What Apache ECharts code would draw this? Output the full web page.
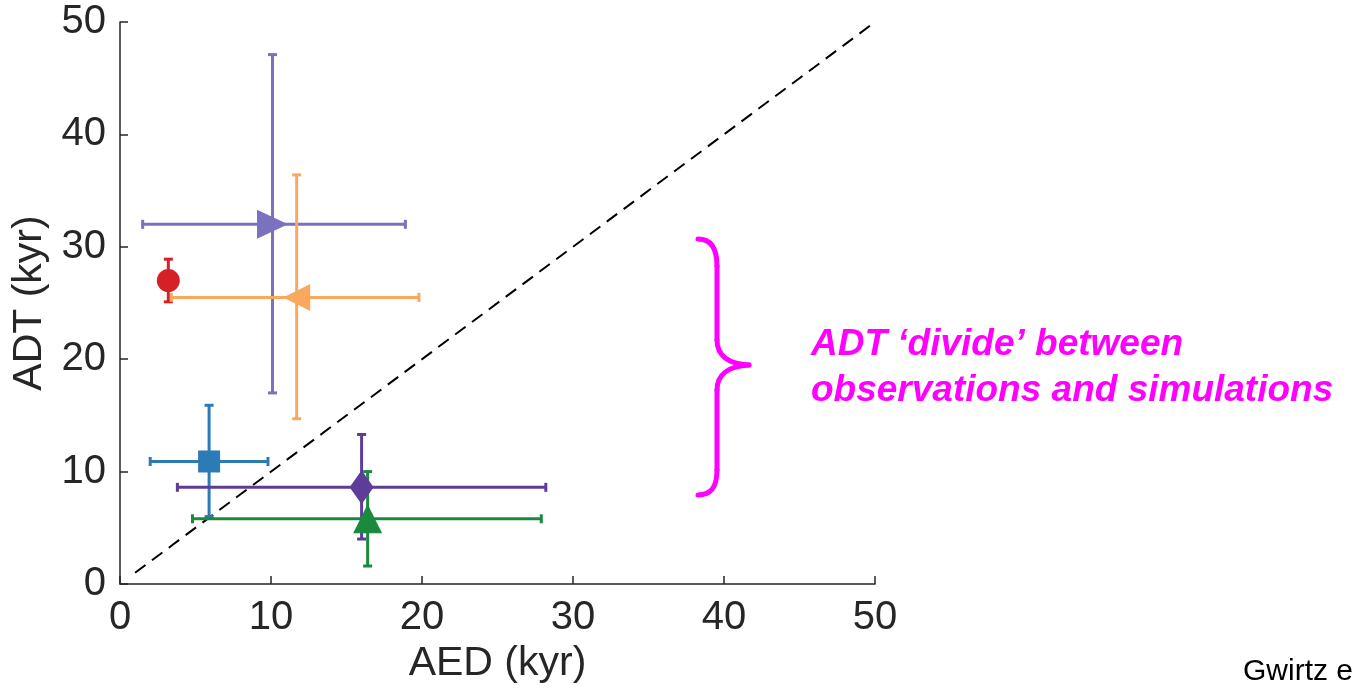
<!DOCTYPE html>
<html lang="en">
<head>
    <meta charset="UTF-8">
    <title>ADT vs AED</title>
    <script src="https://cdn.jsdelivr.net/npm/echarts@6/dist/echarts.min.js"></script>
    <style>
        html, body { margin: 0; padding: 0; background: #fff; }
        #chart { width: 1353px; height: 696px; }
    </style>
</head>
<body>
<div id="chart"></div>
<script type="text/javascript">
    // data (kyr)
    var aed    = [3.2, 10.1, 11.7, 5.9, 16.0, 16.4];
    var adt    = [27.0, 32.0, 25.5, 10.9, 8.6, 5.8];
    var aedLo  = [3.2, 1.5, 3.4, 2.0, 3.8, 4.8];
    var aedHi  = [3.2, 18.9, 19.8, 9.8, 28.2, 27.9];
    var adtLo  = [25.1, 17.0, 14.7, 6.0, 4.0, 1.6];
    var adtHi  = [28.9, 47.1, 36.4, 15.9, 13.3, 10.0];
    var colors = ['#d62027', '#7a72bf', '#f9a85e', '#2c7bb6', '#5e3c99', '#1b8a3c'];
    var symbols = ['circle', 'triangle', 'triangle', 'rect', 'diamond', 'triangle'];
    var rotates = [0, -90, 90, 0, 0, 0];
    var sizes  = [[23, 23], [29, 31], [27, 27], [22, 22], [24, 34], [29, 29]];
    var oneToOne = [[1, 1], [50, 50]];

    var font = '"Liberation Sans", Arial, Helvetica, sans-serif';
    var axisColor = '#262626';

    var errData = [];
    var markData = [];
    for (var i = 0; i < aed.length; i++) {
        errData.push([aed[i], adt[i], aedLo[i], aedHi[i], adtLo[i], adtHi[i]]);
        markData.push({
            value: [aed[i], adt[i]],
            symbol: symbols[i],
            symbolRotate: rotates[i],
            symbolSize: sizes[i],
            itemStyle: { color: colors[i], opacity: 1 }
        });
    }

    function renderErr(params, api) {
        var x = api.value(0), y = api.value(1);
        var c = api.coord([x, y]);
        var l = api.coord([api.value(2), y]);
        var r = api.coord([api.value(3), y]);
        var b = api.coord([x, api.value(4)]);
        var t = api.coord([x, api.value(5)]);
        var cap = 4.5;
        var style = { stroke: colors[params.dataIndex], lineWidth: 3, fill: null };
        var kids = [];
        if (r[0] - l[0] > 1) {
            kids.push({ type: 'line', shape: { x1: l[0], y1: c[1], x2: r[0], y2: c[1] }, style: style });
            kids.push({ type: 'line', shape: { x1: l[0], y1: c[1] - cap, x2: l[0], y2: c[1] + cap }, style: style });
            kids.push({ type: 'line', shape: { x1: r[0], y1: c[1] - cap, x2: r[0], y2: c[1] + cap }, style: style });
        }
        kids.push({ type: 'line', shape: { x1: c[0], y1: t[1], x2: c[0], y2: b[1] }, style: style });
        kids.push({ type: 'line', shape: { x1: c[0] - cap, y1: t[1], x2: c[0] + cap, y2: t[1] }, style: style });
        kids.push({ type: 'line', shape: { x1: c[0] - cap, y1: b[1], x2: c[0] + cap, y2: b[1] }, style: style });
        return { type: 'group', children: kids };
    }

    // curly brace (annotation), pixel layout
    var braceStyle = { stroke: '#ff00ff', lineWidth: 5, fill: null, lineCap: 'round' };
    var brace = {
        type: 'group',
        children: [
            { type: 'bezierCurve', shape: { x1: 698, y1: 239, cpx1: 712, cpy1: 239, cpx2: 717, cpy2: 250, x2: 717, y2: 266 }, style: braceStyle },
            { type: 'line', shape: { x1: 717, y1: 266, x2: 717, y2: 340 }, style: braceStyle },
            { type: 'bezierCurve', shape: { x1: 717, y1: 340, cpx1: 717, cpy1: 356, cpx2: 729, cpy2: 364, x2: 749, y2: 365 }, style: braceStyle },
            { type: 'bezierCurve', shape: { x1: 749, y1: 365, cpx1: 729, cpy1: 366, cpx2: 717, cpy2: 374, x2: 717, y2: 390 }, style: braceStyle },
            { type: 'line', shape: { x1: 717, y1: 390, x2: 717, y2: 470 }, style: braceStyle },
            { type: 'bezierCurve', shape: { x1: 717, y1: 470, cpx1: 717, cpy1: 486, cpx2: 712, cpy2: 495, x2: 698, y2: 495 }, style: braceStyle }
        ]
    };

    var chart = echarts.init(document.getElementById('chart'));
    var option = {
        animation: false,
        backgroundColor: '#ffffff',
        textStyle: { fontFamily: font },
        grid: { left: 120, right: 478, top: 22, bottom: 112 },
        xAxis: {
            type: 'value', min: 0, max: 50, interval: 10,
            name: 'AED (kyr)', nameLocation: 'middle', nameGap: 58,
            nameTextStyle: { fontSize: 41, color: axisColor, fontFamily: font },
            axisLine: { show: true, lineStyle: { color: axisColor, width: 1.5 } },
            axisTick: { show: true, inside: true, length: 8, lineStyle: { color: axisColor, width: 1.5 } },
            axisLabel: { fontSize: 40, color: axisColor, margin: 14, fontFamily: font },
            splitLine: { show: false }
        },
        yAxis: {
            type: 'value', min: 0, max: 50, interval: 10,
            name: 'ADT (kyr)', nameLocation: 'middle', nameGap: 70, nameRotate: 90,
            nameTextStyle: { fontSize: 41, color: axisColor, fontFamily: font },
            axisLine: { show: true, lineStyle: { color: axisColor, width: 1.5 } },
            axisTick: { show: true, inside: true, length: 8, lineStyle: { color: axisColor, width: 1.5 } },
            axisLabel: { fontSize: 40, color: axisColor, margin: 14, fontFamily: font },
            splitLine: { show: false }
        },
        series: [
            {
                type: 'line',
                data: oneToOne,
                symbol: 'none',
                silent: true,
                lineStyle: { color: '#000', width: 2, type: [13, 8] },
                z: 1
            },
            {
                type: 'custom',
                renderItem: renderErr,
                data: errData,
                silent: true,
                z: 2
            },
            {
                type: 'scatter',
                data: markData,
                silent: true,
                z: 3
            }
        ],
        graphic: [
            brace,
            {
                type: 'text',
                left: 811,
                top: 322,
                style: {
                    text: 'ADT \u2018divide\u2019 between\nobservations and simulations',
                    fill: '#ff00ff',
                    font: 'italic bold 37px ' + font,
                    lineHeight: 46
                }
            },
            {
                type: 'text',
                left: 1243,
                top: 657,
                style: {
                    text: 'Gwirtz et al.',
                    fill: '#000',
                    font: '30px ' + font
                }
            }
        ]
    };
    chart.setOption(option);
</script>
</body>
</html>
